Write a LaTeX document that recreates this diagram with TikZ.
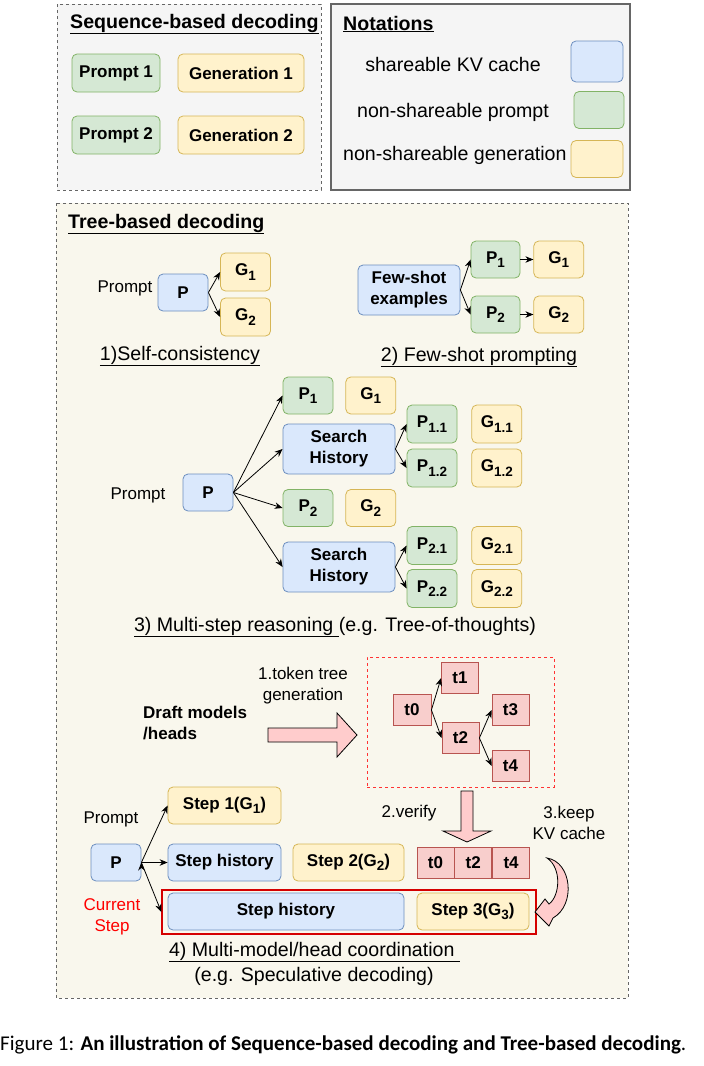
\documentclass[tikz,border=0pt]{standalone}
\usepackage{fontspec}
\usepackage{graphicx}
\setmainfont{Liberation Sans}
\newfontfamily\capfont{Carlito}
\usetikzlibrary{positioning,calc,arrows.meta}
\definecolor{kvfill}{HTML}{DAE8FC}
\definecolor{kvline}{HTML}{6C8EBF}
\definecolor{prfill}{HTML}{D5E8D4}
\definecolor{prline}{HTML}{82B366}
\definecolor{genfill}{HTML}{FFF2CC}
\definecolor{genline}{HTML}{D6B656}
\definecolor{tokfill}{HTML}{F8CECC}
\definecolor{tokline}{HTML}{B85450}
\definecolor{panelfill}{HTML}{F5F5F5}
\definecolor{treefill}{HTML}{F9F7ED}
\definecolor{panelline}{HTML}{666666}
\definecolor{fatfill}{HTML}{FFCCCC}
\definecolor{dashred}{HTML}{FF3333}
\definecolor{curred}{HTML}{D50000}
\newcommand\bxfont{\fontsize{17}{21}\selectfont}
\newcommand\hdfont{\fontsize{19.6}{23}\selectfont}
\newcommand\lowsub[1]{\raisebox{-4.5pt}{\fontsize{13.5}{13.5}\selectfont#1}}

\begin{document}
\begin{tikzpicture}[x=1pt,y=-1pt,>={Stealth[length=8pt,width=6.5pt]},
  cell/.style={draw,rounded corners=5pt,line width=0.8pt,inner sep=0pt,minimum width=50pt,minimum height=38pt,font=\bxfont\bfseries,align=center},
  kvbox/.style={cell,fill=kvfill,draw=kvline},
  prbox/.style={cell,fill=prfill,draw=prline},
  genbox/.style={cell,fill=genfill,draw=genline},
  tokbox/.style={draw=tokline,fill=tokfill,line width=0.8pt,inner sep=0pt,minimum width=37pt,minimum height=31pt,font=\bxfont\bfseries},
  txt/.style={font=\bxfont,align=center,inner sep=0pt},
  headtxt/.style={font=\hdfont,inner sep=0pt},
  fat/.style={draw=black,fill=fatfill,line width=0.8pt,line join=miter},
  panel/.style={draw=panelline,line width=1pt}]

\useasboundingbox (0,0) rectangle (704,1066);

\draw[panel,dash pattern=on 3pt off 3pt,fill=panelfill] (57,4) rectangle (321,190);
\draw[panel,line width=1.3pt,fill=panelfill] (331,4) rectangle (630,190);
\node[headtxt,anchor=west] (seqtitle) at (70,24) {\textbf{\underline{Sequence-based decoding}}};
\node[prbox,minimum width=88pt] (sp1) at (116,73) {Prompt 1};
\node[genbox,minimum width=126pt] (sg1) at (241,73) {Generation 1};
\node[prbox,minimum width=88pt] (sp2) at (116,135) {Prompt 2};
\node[genbox,minimum width=126pt] (sg2) at (241,135) {Generation 2};

\node[headtxt,anchor=west] (nottitle) at (343,24) {\textbf{\underline{Notations}}};
\node[headtxt] (kvtxt) at (453,64) {shareable KV cache};
\node[kvbox,minimum width=52pt,minimum height=41pt] (kvkey) at (597,61.5) {};
\node[headtxt] (prtxt) at (453,112) {non-shareable prompt};
\node[prbox,minimum width=50pt,minimum height=37pt] (prkey) at (599,110) {};
\node[headtxt,anchor=west] (gentxt) at (343,155) {non-shareable generation};
\node[genbox,minimum width=52pt,minimum height=37pt] (genkey) at (597,159) {};

\draw[panel,dash pattern=on 3pt off 3pt,fill=treefill] (56,203) rectangle (628,998);
\node[headtxt,anchor=west] (treetitle) at (68,224) {\textbf{\underline{Tree-based decoding}}};

\node[txt] (sctxt) at (125,288) {Prompt};
\node[kvbox,minimum height=37pt] (scp) at (183,292.5) {P};
\node[genbox] (scg1) at (245.5,272) {G\lowsub{1}};
\node[genbox] (scg2) at (245.5,317) {G\lowsub{2}};
\node[headtxt] (sccap) at (180,356) {\underline{1)Self-consistency}};

\node[kvbox,minimum width=102pt,minimum height=50pt] (fs) at (409,290) {Few-shot\\examples};
\node[prbox,minimum width=49pt,minimum height=37pt] (fsp1) at (495.5,259.5) {P\lowsub{1}};
\node[genbox,minimum height=37pt,right=13pt of fsp1] (fsg1) {G\lowsub{1}};
\node[prbox,minimum width=49pt,minimum height=37pt] (fsp2) at (495.5,314.5) {P\lowsub{2}};
\node[genbox,minimum height=37pt,right=13pt of fsp2] (fsg2) {G\lowsub{2}};
\node[headtxt] (fscap) at (479,357) {\underline{2) Few-shot prompting}};

\node[txt] (mstxt) at (138,495) {Prompt};
\node[kvbox,minimum height=37pt] (msp) at (208,492.5) {P};
\node[prbox,minimum height=37pt] (msp1) at (308,395.5) {P\lowsub{1}};
\node[genbox,minimum height=37pt,right=12pt of msp1] (msg1) {G\lowsub{1}};
\node[kvbox,minimum width=112pt,minimum height=50pt] (sh1) at (339,449) {Search\\History};
\node[prbox] (msp11) at (432,424) {P\lowsub{1.1}};
\node[genbox,right=14pt of msp11] (msg11) {G\lowsub{1.1}};
\node[prbox] (msp12) at (432,468) {P\lowsub{1.2}};
\node[genbox,right=14pt of msp12] (msg12) {G\lowsub{1.2}};
\node[prbox,minimum height=37pt] (msp2) at (308,508) {P\lowsub{2}};
\node[genbox,minimum height=37pt,right=12pt of msp2] (msg2) {G\lowsub{2}};
\node[kvbox,minimum width=112pt,minimum height=50pt] (sh2) at (339,567) {Search\\History};
\node[prbox] (msp21) at (432,545.5) {P\lowsub{2.1}};
\node[genbox,right=14pt of msp21] (msg21) {G\lowsub{2.1}};
\node[prbox] (msp22) at (432,588.5) {P\lowsub{2.2}};
\node[genbox,right=14pt of msp22] (msg22) {G\lowsub{2.2}};
\node[headtxt] (mscap) at (335,627) {\underline{3) Multi-step reasoning\ }(e.g. Tree-of-thoughts)};

\node[txt] (tttxt) at (303,686) {1.token tree\\generation};
\node[txt,anchor=west,align=left,font=\bxfont\bfseries] (draft) at (143,723.5) {Draft models\\/heads};
\draw[fat] (268,728) -- (337,728) -- (337,713) -- (357,735) -- (337,757) -- (337,742) -- (268,742) -- cycle;
\node[draw=dashred,line width=1pt,dash pattern=on 3pt off 3pt,minimum width=187pt,minimum height=130pt] (tree) at (460.5,722) {};
\node[tokbox,minimum width=38pt] (t0) at (412,710) {t0};
\node[tokbox] (t1) at (460,678) {t1};
\node[tokbox] (t2) at (460.5,738) {t2};
\node[tokbox] (t3) at (510.5,710) {t3};
\node[tokbox] (t4) at (510.5,766) {t4};
\draw[fat] (461,791) -- (473,791) -- (473,831) -- (491,831) -- (467,842) -- (443,831) -- (461,831) -- cycle;
\node[txt] (verify) at (409,813) {2.verify};
\node[txt] (keep) at (569,823) {3.keep\\KV cache};
\node[tokbox] (v0) at (435.5,862.5) {t0};
\node[tokbox,right=0pt of v0] (v2) {t2};
\node[tokbox,right=0pt of v2] (v4) {t4};

\node[txt] (sptxt) at (111,819) {Prompt};
\node[kvbox,minimum height=37pt] (spp) at (116,862.5) {P};
\node[genbox,minimum width=113pt,minimum height=37pt] (st1) at (224.5,805.5) {Step 1(G\lowsub{1})};
\node[kvbox,minimum width=113pt,minimum height=37pt] (sth1) at (224.5,862.5) {Step history};
\node[genbox,minimum width=111pt,minimum height=37pt] (st2) at (348.5,862.5) {Step 2(G\lowsub{2})};
\node[draw=curred,line width=1.3pt,minimum width=374pt,minimum height=44pt,inner sep=0pt] (cur) at (349,912) {};
\node[kvbox,minimum width=236pt,minimum height=37pt] (sth2) at (286,911.5) {Step history};
\node[genbox,minimum width=112pt,minimum height=37pt] (st3) at (473,911.5) {Step 3(G\lowsub{3})};
\node[txt,text=red] (curtxt) at (112,916.5) {Current\\Step};
\draw[fat] (547,858) .. controls (572,862) and (576,905) .. (553,918) -- (549,926) -- (535,912) -- (545,899) -- (549,904) .. controls (560,896) and (562,868) .. cycle;
\node[headtxt] (spcap) at (314.5,952) {\underline{4) Multi-model/head coordination\ }};
\node[headtxt] (spcap2) at (314,976) {(e.g. Speculative decoding)};

\draw[->,line width=0.8pt]
  (scp.east) edge (scg1.west) edge (scg2.west)
  (fs.east) edge (fsp1.west) edge (fsp2.west)
  (fsp1) edge (fsg1) (fsp2) edge (fsg2)
  (msp.east) edge (msp1.west) edge (sh1.west) edge (msp2.west) edge (sh2.west)
  (sh1.east) edge (msp11.west) edge (msp12.west)
  (sh2.east) edge (msp21.west) edge (msp22.west)
  (t0.east) edge (t1.west) edge (t2.west)
  (t2.east) edge (t3.west) edge (t4.west)
  (spp.east) edge (st1.west) edge (sth1.west) edge (cur.west);

\node[anchor=west,inner sep=0pt] (figcap) at (0,1045) {\resizebox{686pt}{!}{\capfont\fontsize{19}{22}\selectfont Figure 1: \textbf{An illustration of Sequence-based decoding and Tree-based decoding}.}};
\end{tikzpicture}
\end{document}
